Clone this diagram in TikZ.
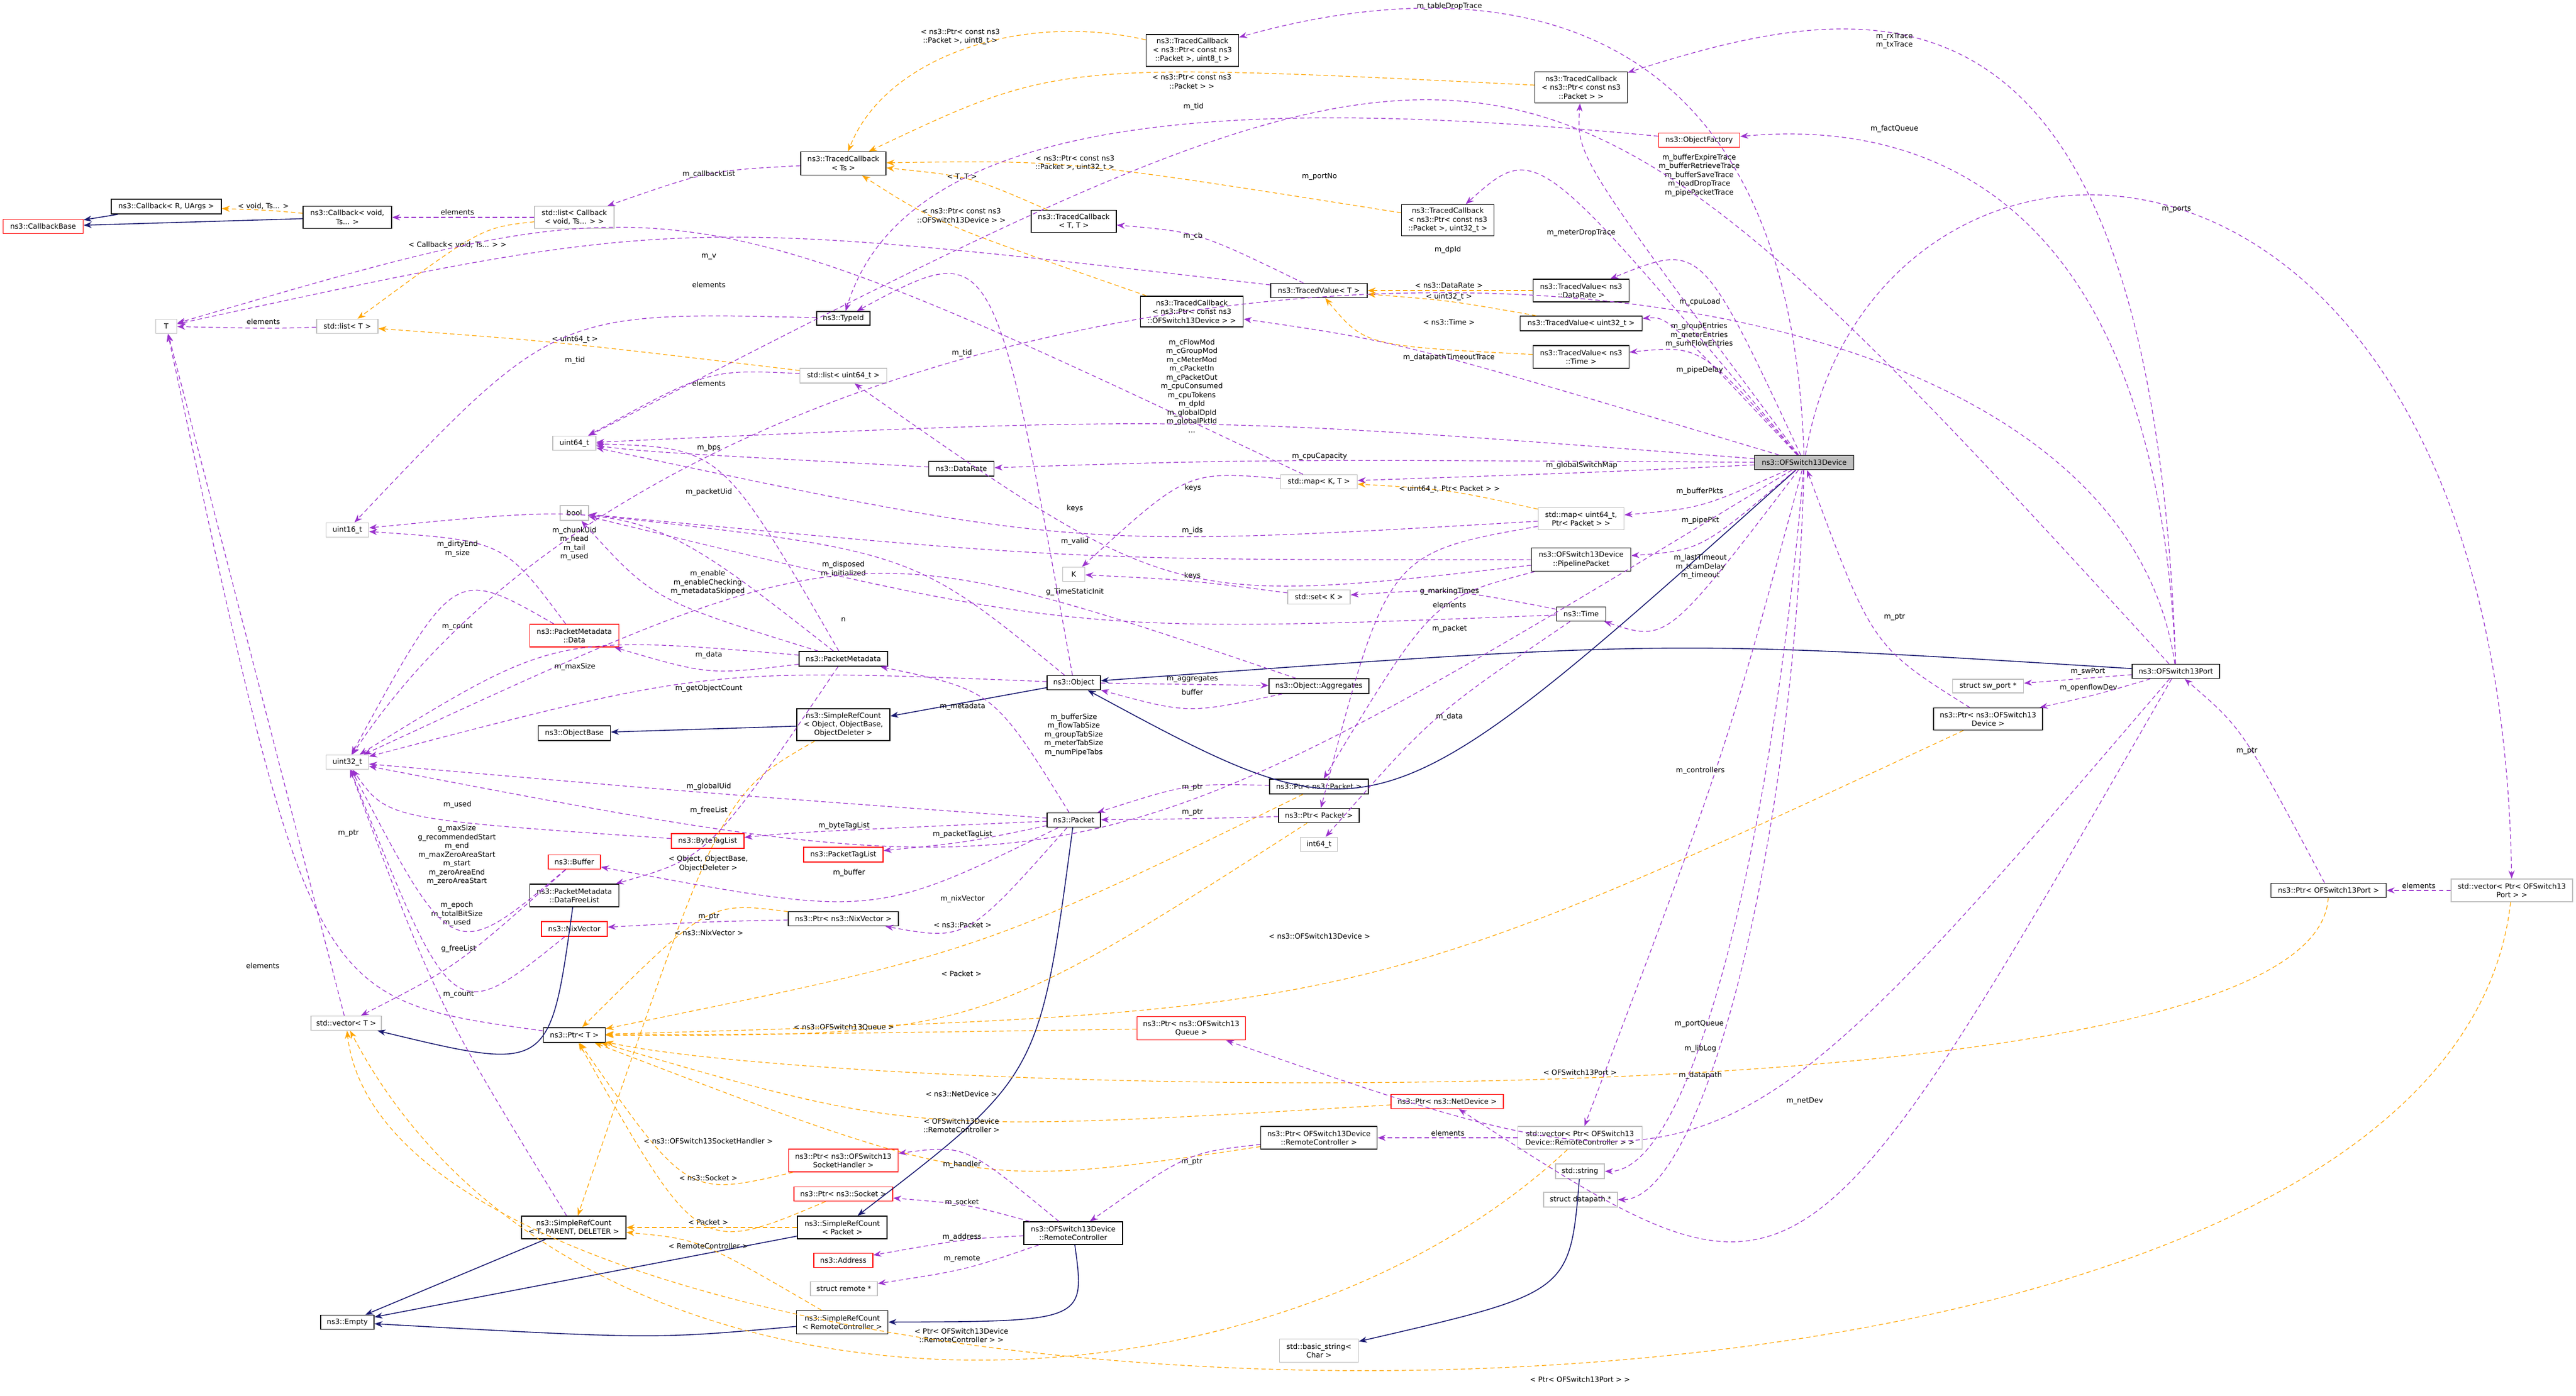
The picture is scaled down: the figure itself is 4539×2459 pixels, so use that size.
\documentclass[tikz,border=0pt]{standalone}
\usepackage{fontspec}
\setmainfont{DejaVu Sans}
\usetikzlibrary{arrows.meta,calc}
\definecolor{cpur}{HTML}{9A32CD}
\definecolor{corg}{HTML}{FFA500}
\definecolor{cnav}{HTML}{191970}
\newcommand\fs{\fontsize{3.6}{4.4}\selectfont}
\newcommand\NN[7]{\node[#6, minimum width=#4*0.01cm, minimum height=#5*0.01cm] (#1) at (#2,#3) {#7};}
\newcommand\EE[4]{\draw[#1] (#2) .. controls ($2*(#4)-0.5*(#2)-0.5*(#3)$) .. (#3);}
\newcommand\EC[5]{\draw[#1] (#2) .. controls (#4) and (#5) .. (#3);}
\newcommand\LL[2]{\node[lab] at (#1) {#2};}
\begin{document}
\begin{tikzpicture}[x=0.01cm,y=-0.01cm,
  bx/.style={draw=black,fill=white,line width=0.45pt,inner sep=0.5pt,align=center,font=\fs},
  gbx/.style={bx,draw=black!25},
  rbx/.style={bx,draw=red},
  fbx/.style={bx,fill=black!25},
  lab/.style={font=\fs,align=center,inner sep=0pt},
  mem/.style={draw=cpur,dash pattern=on 2.2pt off 1.5pt,line width=0.35pt,-{Stealth[length=4pt,width=3pt]}},
  tpl/.style={draw=corg,dash pattern=on 2.2pt off 1.5pt,line width=0.35pt,-{Stealth[length=4pt,width=3pt]}},
  inh/.style={draw=cnav,line width=0.45pt,-{Stealth[length=4pt,width=3pt]}}]
\useasboundingbox (0,0) rectangle (4539,2459);
% nodes
\NN{cbb}{76}{399}{141}{25}{rbx}{ns3::CallbackBase}
\NN{cbr}{293}{364}{194}{26}{bx}{ns3::Callback< R, UArgs >}
\NN{cbv}{612}{383}{156}{39}{bx}{ns3::Callback< void,\\ Ts... >}
\NN{lcb}{1012}{383}{140}{39}{gbx}{std::list< Callback\\ < void, Ts... > >}
\NN{tcts}{1486}{288}{150}{41}{bx}{ns3::TracedCallback\\ < Ts >}
\NN{T}{293}{575}{37}{25}{gbx}{T}
\NN{lT}{612}{575}{108}{25}{gbx}{std::list< T >}
\NN{tid}{1486}{561}{94}{24}{bx}{ns3::TypeId}
\NN{lu64}{1486}{662}{153}{26}{gbx}{std::list< uint64\_t >}
\NN{u64}{1012}{781}{76}{25}{gbx}{uint64\_t}
\NN{tcu8}{2101}{89}{163}{56}{bx}{ns3::TracedCallback\\ < ns3::Ptr< const ns3\\ ::Packet >, uint8\_t >}
\NN{tcp}{2786}{154}{163}{55}{bx}{ns3::TracedCallback\\ < ns3::Ptr< const ns3\\ ::Packet > >}
\NN{of}{2994}{247}{143}{25}{rbx}{ns3::ObjectFactory}
\NN{tctt}{1892}{390}{150}{39}{bx}{ns3::TracedCallback\\ < T, T >}
\NN{tcu32}{2551}{388}{163}{55}{bx}{ns3::TracedCallback\\ < ns3::Ptr< const ns3\\ ::Packet >, uint32\_t >}
\NN{tvT}{2324}{512}{170}{25}{bx}{ns3::TracedValue< T >}
\NN{tvdr}{2786}{512}{169}{40}{bx}{ns3::TracedValue< ns3\\ ::DataRate >}
\NN{tcd}{2100}{549}{181}{54}{bx}{ns3::TracedCallback\\ < ns3::Ptr< const ns3\\ ::OFSwitch13Device > >}
\NN{tvu32}{2786}{570}{215}{26}{bx}{ns3::TracedValue< uint32\_t >}
\NN{tvtm}{2786}{629}{169}{40}{bx}{ns3::TracedValue< ns3\\ ::Time >}
\NN{dr}{1694}{826}{115}{26}{bx}{ns3::DataRate}
\NN{mKT}{2324}{849}{135}{25}{gbx}{std::map< K, T >}
\NN{dev}{3179}{815}{175}{25}{fbx}{ns3::OFSwitch13Device}
\NN{port}{3834}{1183}{154}{25}{bx}{ns3::OFSwitch13Port}
\NN{swp}{3503}{1209}{125}{24}{gbx}{struct sw\_port *}
\NN{pdev}{3503}{1267}{192}{39}{bx}{ns3::Ptr< ns3::OFSwitch13\\ Device >}
\NN{u16}{612}{934}{75}{25}{gbx}{uint16\_t}
\NN{bool}{1012}{904}{50}{26}{gbx}{bool}
\NN{pmd}{1012}{1120}{157}{40}{rbx}{ns3::PacketMetadata\\ ::Data}
\NN{pm}{1486}{1161}{156}{26}{bx}{ns3::PacketMetadata}
\NN{srco}{1486}{1277}{164}{56}{bx}{ns3::SimpleRefCount\\ < Object, ObjectBase,\\ ObjectDeleter >}
\NN{ob}{1012}{1292}{127}{26}{bx}{ns3::ObjectBase}
\NN{u32}{612}{1343}{75}{25}{gbx}{uint32\_t}
\NN{btl}{1247}{1482}{128}{26}{rbx}{ns3::ByteTagList}
\NN{ptl}{1486}{1506}{140}{26}{rbx}{ns3::PacketTagList}
\NN{buf}{1012}{1519}{92}{25}{rbx}{ns3::Buffer}
\NN{dfl}{1012}{1578}{157}{40}{bx}{ns3::PacketMetadata\\ ::DataFreeList}
\NN{pnix}{1486}{1619}{194}{25}{bx}{ns3::Ptr< ns3::NixVector >}
\NN{nix}{1012}{1637}{116}{26}{rbx}{ns3::NixVector}
\NN{mu64}{2786}{914}{151}{39}{gbx}{std::map< uint64\_t,\\ Ptr< Packet > >}
\NN{K}{1892}{1012}{39}{25}{gbx}{K}
\NN{pp}{2786}{986}{175}{41}{bx}{ns3::OFSwitch13Device\\ ::PipelinePacket}
\NN{sK}{2324}{1052}{110}{25}{gbx}{std::set< K >}
\NN{tm}{2786}{1082}{87}{25}{bx}{ns3::Time}
\NN{obj}{1892}{1203}{94}{25}{bx}{ns3::Object}
\NN{agg}{2324}{1209}{176}{26}{bx}{ns3::Object::Aggregates}
\NN{pnp}{2324}{1386}{174}{26}{bx}{ns3::Ptr< ns3::Packet >}
\NN{pP}{2324}{1437}{142}{25}{bx}{ns3::Ptr< Packet >}
\NN{i64}{2324}{1488}{65}{25}{gbx}{int64\_t}
\NN{pkt}{1892}{1445}{94}{25}{bx}{ns3::Packet}
\NN{vT}{610}{1803}{124}{25}{gbx}{std::vector< T >}
\NN{pT}{1012}{1824}{109}{26}{bx}{ns3::Ptr< T >}
\NN{pq}{2099}{1812}{191}{41}{rbx}{ns3::Ptr< ns3::OFSwitch13\\ Queue >}
\NN{pnd}{2550}{1941}{198}{25}{rbx}{ns3::Ptr< ns3::NetDevice >}
\NN{prc}{2324}{2005}{205}{40}{bx}{ns3::Ptr< OFSwitch13Device\\ ::RemoteController >}
\NN{vrc}{2784}{2005}{219}{40}{gbx}{std::vector< Ptr< OFSwitch13\\ Device::RemoteController > >}
\NN{psh}{1486}{2045}{193}{40}{rbx}{ns3::Ptr< ns3::OFSwitch13\\ SocketHandler >}
\NN{psk}{1486}{2104}{174}{25}{rbx}{ns3::Ptr< ns3::Socket >}
\NN{str}{2784}{2064}{86}{26}{gbx}{std::string}
\NN{dp}{2785}{2114}{130}{26}{gbx}{struct datapath *}
\NN{srct}{1011}{2163}{184}{40}{bx}{ns3::SimpleRefCount\\ < T, PARENT, DELETER >}
\NN{srcp}{1484}{2163}{158}{40}{bx}{ns3::SimpleRefCount\\ < Packet >}
\NN{rc}{1891}{2173}{174}{40}{bx}{ns3::OFSwitch13Device\\ ::RemoteController}
\NN{addr}{1486}{2221}{104}{25}{rbx}{ns3::Address}
\NN{rem}{1487}{2271}{118}{25}{gbx}{struct remote *}
\NN{srcr}{1484}{2330}{161}{41}{bx}{ns3::SimpleRefCount\\ < RemoteController >}
\NN{emp}{612}{2330}{94}{25}{bx}{ns3::Empty}
\NN{bstr}{2324}{2380}{139}{41}{gbx}{std::basic\_string<\\ Char >}
\NN{pport}{4103}{1569}{203}{25}{bx}{ns3::Ptr< OFSwitch13Port >}
\NN{vport}{4426}{1569}{214}{40}{gbx}{std::vector< Ptr< OFSwitch13\\ Port > >}
% inheritance
\draw[inh] (cbr) -- (cbb);
\draw[inh] (cbv) -- (cbb);
\draw[inh] (srco) -- (ob);
\draw[inh] (obj) -- (srco);
\draw[inh] (srct) -- (emp);
\draw[inh] (srcp) -- (emp);
\EE{inh}{srcr}{emp}{1100,2345}
\EE{inh}{pkt}{srcp}{1760,1850}
\EE{inh}{dfl}{vT}{890,1790}
\EE{inh}{rc}{srcr}{1800,2290}
\EE{inh}{str}{bstr}{2660,2250}
\EE{inh}{dev}{obj}{2480,1250}
\EE{inh}{port}{obj}{2900,1160}
% template instantiation
\EE{tpl}{cbv}{cbr}{464,372} \LL{464,363}{< void, Ts... >}
\EE{tpl}{lcb}{lT}{830,440} \LL{806,431}{< Callback< void, Ts... > >}
\EE{tpl}{lu64}{lT}{1013,610} \LL{1013,598}{< uint64\_t >}
\EC{tpl}{tcu8}{tcts}{1800,20}{1560,100} \LL{1692,65}{< ns3::Ptr< const ns3\\ ::Packet >, uint8\_t >}
\EE{tpl}{tcp}{tcts}{2000,165} \LL{2100,144}{< ns3::Ptr< const ns3\\ ::Packet > >}
\EE{tpl}{tcu32}{tcts}{1950,310} \LL{1894,288}{< ns3::Ptr< const ns3\\ ::Packet >, uint32\_t >}
\EE{tpl}{tctt}{tcts}{1700,325} \LL{1695,312}{< T, T >}
\EE{tpl}{tcd}{tcts}{1720,405} \LL{1694,380}{< ns3::Ptr< const ns3\\ ::OFSwitch13Device > >}
\EE{tpl}{tvdr}{tvT}{2553,512} \LL{2553,503}{< ns3::DataRate >}
\EE{tpl}{tvu32}{tvT}{2553,535} \LL{2553,523}{< uint32\_t >}
\EE{tpl}{tvtm}{tvT}{2480,590} \LL{2553,568}{< ns3::Time >}
\EE{tpl}{mu64}{mKT}{2554,872} \LL{2554,862}{< uint64\_t, Ptr< Packet > >}
\EE{tpl}{srco}{srct}{1260,1560} \LL{1248,1522}{< Object, ObjectBase,\\ ObjectDeleter >}
\EE{tpl}{srcp}{srct}{1248,2163} \LL{1248,2154}{< Packet >}
\EE{tpl}{srcr}{srct}{1240,2215} \LL{1248,2196}{< RemoteController >}
\EE{tpl}{pnix}{pT}{1249,1655} \LL{1249,1644}{< ns3::NixVector >}
\EE{tpl}{pnp}{pT}{1696,1642} \LL{1696,1630}{< ns3::Packet >}
\EE{tpl}{pP}{pT}{1694,1728} \LL{1694,1716}{< Packet >}
\EE{tpl}{pdev}{pT}{2325,1665} \LL{2325,1650}{< ns3::OFSwitch13Device >}
\EE{tpl}{pq}{pT}{1487,1820} \LL{1487,1810}{< ns3::OFSwitch13Queue >}
\EC{tpl}{pport}{pT}{4080,2000}{1500,1930} \LL{2784,1890}{< OFSwitch13Port >}
\EE{tpl}{pnd}{pT}{1694,1940} \LL{1694,1928}{< ns3::NetDevice >}
\EE{tpl}{prc}{pT}{1694,2005} \LL{1694,1983}{< OFSwitch13Device\\ ::RemoteController >}
\EE{tpl}{psh}{pT}{1230,2022} \LL{1248,2011}{< ns3::OFSwitch13SocketHandler >}
\EE{tpl}{psk}{pT}{1240,2088} \LL{1248,2076}{< ns3::Socket >}
\EC{tpl}{vrc}{vT}{2200,2550}{1000,2550} \LL{1694,2353}{< Ptr< OFSwitch13Device\\ ::RemoteController > >}
\EC{tpl}{vport}{vT}{4300,2700}{700,2600} \LL{2784,2431}{< Ptr< OFSwitch13Port > >}
% members
\EE{mem}{tcts}{lcb}{1249,318} \LL{1249,307}{m\_callbackList}
\EE{mem}{lcb}{cbv}{806,383} \LL{806,374}{elements}
\EE{mem}{lT}{T}{464,577} \LL{464,567}{elements}
\draw[mem] (vT) -- (T); \LL{463,1702}{elements}
\EE{mem}{pT}{T}{600,1480} \LL{614,1469}{m\_ptr}
\EE{mem}{tvT}{T}{1249,462} \LL{1249,452}{m\_v}
\EE{mem}{mKT}{T}{1249,512} \LL{1249,502}{elements}
\EE{mem}{tvT}{tctt}{2110,430} \LL{2102,416}{m\_cb}
\EE{mem}{lu64}{u64}{1249,686} \LL{1249,676}{elements}
\EE{mem}{dr}{u64}{1249,800} \LL{1249,789}{m\_bps}
\EE{mem}{pm}{u64}{1260,880} \LL{1249,867}{m\_packetUid}
\EE{mem}{mu64}{u64}{1894,907} \LL{1894,896}{keys}
\EE{mem}{mKT}{K}{2100,880} \LL{2102,860}{keys}
\EE{mem}{sK}{K}{2101,1027} \LL{2101,1015}{keys}
\EE{mem}{pp}{bool}{1894,966} \LL{1894,954}{m\_valid}
\EE{mem}{pp}{lu64}{2101,946} \LL{2101,935}{m\_ids}
\EE{mem}{pp}{pnp}{2540,1120} \LL{2554,1108}{m\_packet}
\EE{mem}{mu64}{pP}{2500,1075} \LL{2554,1066}{elements}
\EE{mem}{tm}{sK}{2554,1052} \LL{2554,1042}{g\_markingTimes}
\EE{mem}{tm}{bool}{1894,1055} \LL{1894,1043}{g\_TimeStaticInit}
\EE{mem}{tm}{i64}{2540,1272} \LL{2554,1263}{m\_data}
\EE{mem}{obj}{tid}{1720,650} \LL{1695,622}{m\_tid}
\EC{mem}{of}{tid}{2200,170}{1600,190} \LL{2103,188}{m\_tid}
\EE{mem}{tid}{u16}{1013,648} \LL{1013,635}{m\_tid}
\EE{mem}{obj}{bool}{1530,1012} \LL{1486,1003}{m\_disposed\\ m\_initialized}
\EE{mem}{obj}{u32}{1249,1225} \LL{1249,1213}{m\_getObjectCount}
\EE{mem}{obj}{agg}{2101,1206} \LL{2101,1197}{m\_aggregates}
\EE{mem}{agg}{obj}{2101,1232} \LL{2101,1220}{buffer}
\EE{mem}{agg}{u32}{1486,1103} \LL{1486,1092}{n}
\EE{mem}{pm}{pmd}{1249,1165} \LL{1249,1154}{m\_data}
\EE{mem}{pm}{u32}{1013,1185} \LL{1013,1175}{m\_maxSize}
\EE{mem}{pm}{u16}{1090,965} \LL{1012,958}{m\_chunkUid\\ m\_head\\ m\_tail\\ m\_used}
\EE{mem}{pm}{bool}{1200,1045} \LL{1247,1027}{m\_enable\\ m\_enableChecking\\ m\_metadataSkipped}
\EE{mem}{pm}{dfl}{1249,1440} \LL{1249,1428}{m\_freeList}
\EE{mem}{pmd}{u16}{850,990} \LL{806,967}{m\_dirtyEnd\\ m\_size}
\EE{mem}{pmd}{u32}{806,1115} \LL{806,1105}{m\_count}
\EE{mem}{pkt}{pm}{1720,1260} \LL{1696,1245}{m\_metadata}
\EE{mem}{pkt}{btl}{1487,1465} \LL{1487,1455}{m\_byteTagList}
\EE{mem}{pkt}{ptl}{1696,1480} \LL{1696,1470}{m\_packetTagList}
\EE{mem}{pkt}{buf}{1496,1550} \LL{1496,1538}{m\_buffer}
\EE{mem}{pkt}{pnix}{1696,1595} \LL{1696,1584}{m\_nixVector}
\EE{mem}{pkt}{u32}{1249,1396} \LL{1249,1386}{m\_globalUid}
\EE{mem}{pnix}{nix}{1249,1626} \LL{1249,1616}{m\_ptr}
\EE{mem}{nix}{u32}{805,1650} \LL{805,1611}{m\_epoch\\ m\_totalBitSize\\ m\_used}
\EE{mem}{btl}{u32}{806,1428} \LL{806,1418}{m\_used}
\EE{mem}{buf}{u32}{805,1565} \LL{805,1507}{g\_maxSize\\ g\_recommendedStart\\ m\_end\\ m\_maxZeroAreaStart\\ m\_start\\ m\_zeroAreaEnd\\ m\_zeroAreaStart}
\EE{mem}{buf}{vT}{808,1682} \LL{808,1672}{g\_freeList}
\EE{mem}{srct}{u32}{790,1760} \LL{808,1753}{m\_count}
\EE{mem}{pnp}{pkt}{2101,1398} \LL{2101,1388}{m\_ptr}
\EE{mem}{pP}{pkt}{2101,1442} \LL{2101,1432}{m\_ptr}
\EE{mem}{vrc}{prc}{2551,2005} \LL{2551,1997}{elements}
\EE{mem}{prc}{rc}{2100,2060} \LL{2100,2048}{m\_ptr}
\EE{mem}{rc}{psh}{1695,2063} \LL{1695,2052}{m\_handler}
\EE{mem}{rc}{psk}{1695,2130} \LL{1695,2119}{m\_socket}
\EE{mem}{rc}{addr}{1695,2190} \LL{1695,2180}{m\_address}
\EE{mem}{rc}{rem}{1695,2230} \LL{1695,2219}{m\_remote}
% OFSwitch13Device members
\EE{mem}{dev}{dr}{2325,815} \LL{2325,804}{m\_cpuCapacity}
\EE{mem}{dev}{mKT}{2787,832} \LL{2787,820}{m\_globalSwitchMap}
\EE{mem}{dev}{mu64}{2990,880} \LL{2995,866}{m\_bufferPkts}
\EE{mem}{dev}{pp}{2990,935} \LL{2996,917}{m\_pipePkt}
\EE{mem}{dev}{tm}{2960,1040} \LL{2996,999}{m\_lastTimeout\\ m\_tcamDelay\\ m\_timeout}
\EE{mem}{dev}{u32}{1900,1335} \LL{1892,1295}{m\_bufferSize\\ m\_flowTabSize\\ m\_groupTabSize\\ m\_meterTabSize\\ m\_numPipeTabs}
\EE{mem}{dev}{vrc}{3010,1372} \LL{2996,1358}{m\_controllers}
\EC{mem}{dev}{str}{3120,1500}{2980,2064} \LL{2996,1848}{m\_libLog}
\EC{mem}{dev}{dp}{3160,1500}{3000,2114} \LL{2996,1895}{m\_datapath}
\EC{mem}{dev}{vport}{3300,100}{4400,100} \LL{3835,369}{m\_ports}
\EE{mem}{dev}{tvdr}{2990,545} \LL{2995,532}{m\_cpuLoad}
\EE{mem}{dev}{tvu32}{2960,625} \LL{2994,591}{m\_groupEntries\\ m\_meterEntries\\ m\_sumFlowEntries}
\EE{mem}{dev}{tvtm}{2990,665} \LL{2995,652}{m\_pipeDelay}
\EE{mem}{dev}{tcd}{2553,642} \LL{2553,630}{m\_datapathTimeoutTrace}
\EE{mem}{dev}{tcu32}{2786,425} \LL{2786,410}{m\_meterDropTrace}
\EE{mem}{dev}{tcp}{2880,380} \LL{2994,309}{m\_bufferExpireTrace\\ m\_bufferRetrieveTrace\\ m\_bufferSaveTrace\\ m\_loadDropTrace\\ m\_pipePacketTrace}
\EC{mem}{dev}{tcu8}{3150,-130}{2450,-10} \LL{2554,11}{m\_tableDropTrace}
\EE{mem}{dev}{u64}{2100,765} \LL{2100,680}{m\_cFlowMod\\ m\_cGroupMod\\ m\_cMeterMod\\ m\_cPacketIn\\ m\_cPacketOut\\ m\_cpuConsumed\\ m\_cpuTokens\\ m\_dpId\\ m\_globalDpId\\ m\_globalPktId\\ ...}
\EE{mem}{pdev}{dev}{3320,1090} \LL{3338,1088}{m\_ptr}
% OFSwitch13Port members
\EC{mem}{port}{tcp}{3790,-100}{3300,-10} \LL{3338,72}{m\_rxTrace\\ m\_txTrace}
\EC{mem}{port}{of}{3800,350}{3400,210} \LL{3338,227}{m\_factQueue}
\EC{mem}{port}{u32}{3700,250}{1300,300} \LL{2325,311}{m\_portNo}
\EE{mem}{port}{u64}{2551,452} \LL{2551,440}{m\_dpId}
\EE{mem}{port}{swp}{3679,1195} \LL{3679,1183}{m\_swPort}
\EE{mem}{port}{pdev}{3680,1225} \LL{3680,1212}{m\_openflowDev}
\EE{mem}{port}{pq}{2994,1815} \LL{2994,1804}{m\_portQueue}
\EE{mem}{port}{pnd}{3180,1952} \LL{3180,1940}{m\_netDev}
\EE{mem}{pport}{port}{3960,1330} \LL{3959,1324}{m\_ptr}
\EE{mem}{vport}{pport}{4262,1569} \LL{4262,1561}{elements}
\end{tikzpicture}
\end{document}
